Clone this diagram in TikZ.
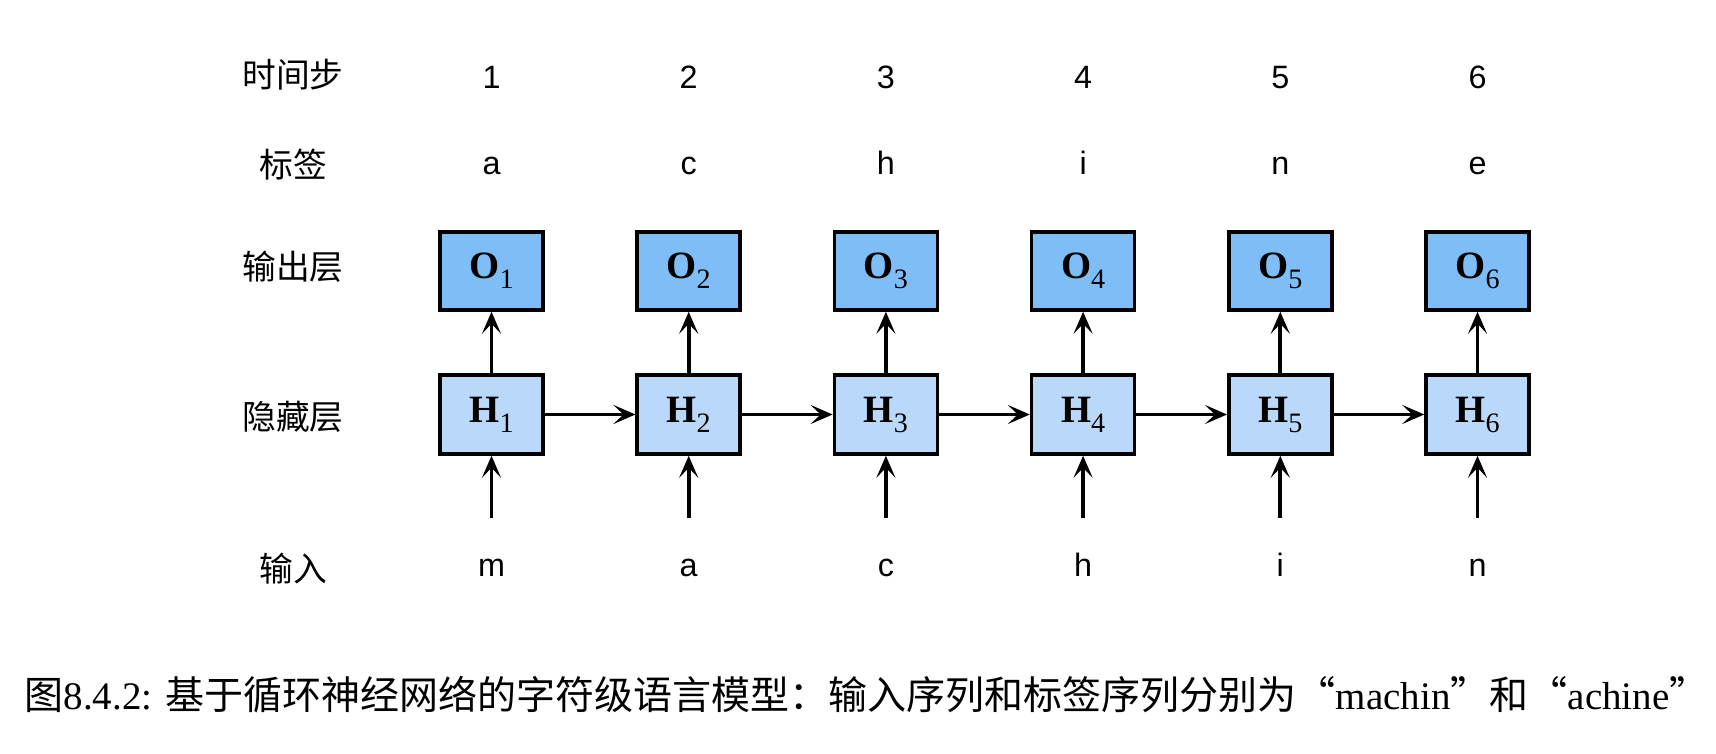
\documentclass[tikz,border=0pt]{standalone}
\usepackage{fontspec}
\setmainfont{Liberation Sans}
\newfontfamily\cjkfont{Noto Sans CJK SC}
\newfontfamily\boxfont{Liberation Serif}
\usetikzlibrary{arrows.meta}
\definecolor{outblue}{HTML}{7FBDF7}
\definecolor{hidblue}{HTML}{BAD8FA}
\newcommand{\vecsub}[2]{{\fontsize{11}{12}\selectfont\bfseries #1}\raisebox{-0.1cm}{\fontsize{8}{9}\selectfont #2}}

\begin{document}
\begin{tikzpicture}[node distance=1.972cm]
  % Define styles
  \tikzstyle{layer}=[font=\cjkfont\fontsize{9.6}{11}\selectfont, text height=0.8em, text depth=0.2em]
  \tikzstyle{seq}=[font=\fontsize{9.2}{11}\selectfont, text height=0.75em, text depth=0.2em]
  \tikzstyle{outbox}=[rectangle, draw=black, line width=1pt, fill=outblue, minimum width=1.03cm, minimum height=0.78cm, font=\boxfont]
  \tikzstyle{hidbox}=[outbox, fill=hidblue, minimum height=0.79cm]
  \tikzstyle{conn}=[-{Stealth[length=2.2mm, width=1.9mm, inset=1mm]}, line width=1.1pt]

  \useasboundingbox (0,0) rectangle (17.16,-7.54);

  % Row labels
  \node[layer, anchor=base] (steplbl) at (2.93,-0.88) {时间步};
  \node[layer, anchor=base] (taglbl) at (2.93,-1.78) {标签};
  \node[layer, anchor=base] (outlbl) at (2.93,-2.80) {输出层};
  \node[layer, anchor=base] (hidlbl) at (2.93,-4.30) {隐藏层};
  \node[layer, anchor=base] (inlbl) at (2.93,-5.82) {输入};

  % Time steps
  \node[seq, anchor=base] (t1) at (4.915,-0.89) {1};
  \node[seq, right of=t1] (t2) {2};
  \node[seq, right of=t2] (t3) {3};
  \node[seq, right of=t3] (t4) {4};
  \node[seq, right of=t4] (t5) {5};
  \node[seq, right of=t5] (t6) {6};

  % Labels
  \node[seq, anchor=base] (y1) at (4.915,-1.75) {a};
  \node[seq, right of=y1] (y2) {c};
  \node[seq, right of=y2] (y3) {h};
  \node[seq, right of=y3] (y4) {i};
  \node[seq, right of=y4] (y5) {n};
  \node[seq, right of=y5] (y6) {e};

  % Output layer
  \node[outbox] (o1) at (4.915,-2.71) {\vecsub{O}{1}};
  \node[outbox, right of=o1] (o2) {\vecsub{O}{2}};
  \node[outbox, right of=o2] (o3) {\vecsub{O}{3}};
  \node[outbox, right of=o3] (o4) {\vecsub{O}{4}};
  \node[outbox, right of=o4] (o5) {\vecsub{O}{5}};
  \node[outbox, right of=o5] (o6) {\vecsub{O}{6}};

  % Hidden layer
  \node[hidbox] (h1) at (4.915,-4.145) {\vecsub{H}{1}};
  \node[hidbox, right of=h1] (h2) {\vecsub{H}{2}};
  \node[hidbox, right of=h2] (h3) {\vecsub{H}{3}};
  \node[hidbox, right of=h3] (h4) {\vecsub{H}{4}};
  \node[hidbox, right of=h4] (h5) {\vecsub{H}{5}};
  \node[hidbox, right of=h5] (h6) {\vecsub{H}{6}};

  % Inputs
  \node[seq, anchor=base] (x1) at (4.915,-5.77) {m};
  \node[seq, right of=x1] (x2) {a};
  \node[seq, right of=x2] (x3) {c};
  \node[seq, right of=x3] (x4) {h};
  \node[seq, right of=x4] (x5) {i};
  \node[seq, right of=x5] (x6) {n};

  % Caption
  \node[anchor=west, inner sep=0pt, font=\fontsize{11.1}{13}\selectfont] (caption) at (0.24,-6.95)
    {\cjkfont 图\boxfont 8.4.2: \cjkfont 基于循环神经网络的字符级语言模型：输入序列和标签序列分别为“\boxfont machin\cjkfont ”和“\boxfont achine\cjkfont ”};

  % Connections
  \draw[conn] (h1) -- (h2);
  \draw[conn] (h2) -- (h3);
  \draw[conn] (h3) -- (h4);
  \draw[conn] (h4) -- (h5);
  \draw[conn] (h5) -- (h6);
  \draw[conn] (h1) -- (o1);
  \draw[conn] (h2) -- (o2);
  \draw[conn] (h3) -- (o3);
  \draw[conn] (h4) -- (o4);
  \draw[conn] (h5) -- (o5);
  \draw[conn] (h6) -- (o6);
  \draw[conn, shorten <=0.2cm] (x1) -- (h1);
  \draw[conn, shorten <=0.2cm] (x2) -- (h2);
  \draw[conn, shorten <=0.2cm] (x3) -- (h3);
  \draw[conn, shorten <=0.2cm] (x4) -- (h4);
  \draw[conn, shorten <=0.2cm] (x5) -- (h5);
  \draw[conn, shorten <=0.2cm] (x6) -- (h6);
\end{tikzpicture}
\end{document}
